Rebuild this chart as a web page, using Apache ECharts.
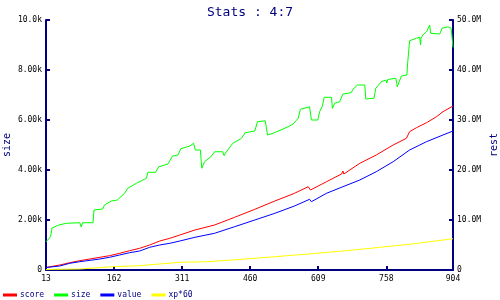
<!DOCTYPE html>
<html>
<head>
<meta charset="utf-8">
<script src="https://cdn.jsdelivr.net/npm/echarts@6/dist/echarts.min.js"></script>
<style>
  html, body { margin: 0; padding: 0; background: #fff; }
  #chart { width: 500px; height: 300px; }
</style>
</head>
<body>
<div id="chart"></div>
<script>
  // x range / ticks
  const xMin = 13
  const xMax = 904
  const xStep = 149

  // size (left axis), [x, value]
  const sizeData = [
    [13, 1130], [23, 1330], [26, 1680], [41, 1800], [58, 1870], [87, 1890], [90, 1720], [93, 1890],
    [116, 1890], [118, 2400], [137, 2440], [141, 2600], [156, 2760], [169, 2800], [185, 3070],
    [192, 3270], [211, 3470], [233, 3670], [236, 3910], [253, 3910], [260, 4130], [280, 4240],
    [290, 4560], [302, 4600], [308, 4850], [328, 4960], [336, 5070], [340, 4800], [351, 4800],
    [354, 4070], [360, 4330], [374, 4530], [382, 4730], [400, 4730], [403, 4570], [406, 4680],
    [422, 5070], [441, 5270], [449, 5490], [470, 5560], [476, 5930], [493, 5970], [498, 5400],
    [510, 5470], [522, 5560], [543, 5730], [554, 5840], [565, 6070], [570, 6430], [590, 6530],
    [594, 6000], [608, 6000], [612, 6330], [618, 6560], [622, 6910], [638, 6910], [640, 6470],
    [645, 6670], [656, 6730], [663, 7040], [681, 7090], [685, 7230], [695, 7400], [711, 7400],
    [713, 6840], [731, 6870], [735, 7270], [747, 7530], [757, 7600], [759, 7480], [761, 7620],
    [779, 7670], [782, 7330], [791, 7760], [803, 7800], [805, 8330], [809, 9170], [824, 9270],
    [831, 9310], [833, 9000], [834, 9280], [838, 9400], [846, 9530], [853, 9800], [855, 9470],
    [875, 9440], [880, 9670], [893, 9730], [900, 9670], [903, 9600], [904, 8900]
  ]

  // score, value, xp*60 (right axis)
  const scoreData = [
    [13, 0.5e6], [43, 1.0e6], [65, 1.46e6], [87, 1.86e6], [131, 2.54e6], [152, 2.86e6],
    [174, 3.34e6], [196, 3.86e6], [218, 4.34e6], [240, 5.0e6], [262, 5.8e6], [284, 6.34e6],
    [306, 7.0e6], [339, 8.0e6], [382, 9.0e6], [426, 10.54e6], [470, 12.14e6], [514, 13.8e6],
    [557, 15.34e6], [587, 16.66e6], [592, 16.0e6], [627, 17.66e6], [660, 19.2e6], [663, 19.8e6],
    [665, 19.2e6], [700, 21.34e6], [736, 23.0e6], [773, 25.0e6], [802, 26.34e6], [809, 27.66e6],
    [824, 28.46e6], [846, 29.46e6], [868, 30.66e6], [882, 31.66e6], [904, 32.8e6]
  ]
  const valueData = [
    [13, 0.5e6], [43, 0.8e6], [65, 1.34e6], [87, 1.66e6], [131, 2.2e6], [152, 2.54e6],
    [174, 3.0e6], [196, 3.46e6], [218, 3.8e6], [240, 4.54e6], [262, 5.0e6], [284, 5.34e6],
    [306, 5.8e6], [339, 6.54e6], [382, 7.34e6], [426, 8.66e6], [470, 10.0e6], [514, 11.34e6],
    [557, 12.8e6], [590, 14.14e6], [594, 13.66e6], [627, 15.34e6], [663, 16.66e6], [700, 18.0e6],
    [736, 19.66e6], [773, 21.66e6], [809, 24.0e6], [846, 25.66e6], [882, 27.0e6], [904, 27.8e6]
  ]
  const xpData = [
    [13, 0.1e6], [87, 0.2e6], [159, 0.66e6], [218, 0.86e6], [306, 1.54e6], [367, 1.66e6],
    [441, 2.14e6], [514, 2.66e6], [587, 3.2e6], [663, 3.8e6], [736, 4.46e6], [809, 5.14e6],
    [904, 6.25e6]
  ]

  const navy = '#000080'
  const mono = 'DejaVu Sans Mono'

  function fmt3(v, unit, div) {
    if (v === 0) return '0'
    const n = v / div
    return (n >= 10 ? n.toFixed(1) : n.toFixed(2)) + unit
  }

  function yAxisBase(name, max, interval, labelFn) {
    return {
      type: 'value',
      name: name,
      nameLocation: 'middle',
      nameRotate: 90,
      nameMoveOverlap: false,
      nameTextStyle: {color: navy, fontFamily: mono, fontSize: 10},
      min: 0,
      max: max,
      interval: interval,
      axisLine: {show: true, lineStyle: {color: navy, width: 2}},
      axisTick: {show: true, inside: true, length: 4, lineStyle: {color: navy, width: 2}},
      splitLine: {show: false},
      axisLabel: {color: '#000', fontFamily: mono, fontSize: 8, margin: 4, formatter: labelFn}
    }
  }

  const chart = echarts.init(document.getElementById('chart'))
  chart.setOption({
    animation: false,
    backgroundColor: '#fff',
    title: {
      text: 'Stats : 4:7',
      left: 'center',
      top: 1,
      textStyle: {color: navy, fontFamily: mono, fontSize: 13, fontWeight: 'normal'}
    },
    legend: {
      left: 3,
      top: 291,
      padding: 0,
      icon: 'rect',
      itemWidth: 14,
      itemHeight: 3,
      itemGap: 10,
      textStyle: {color: navy, fontFamily: mono, fontSize: 8, padding: [0, 0, 0, -2]},
      data: ['score', 'size', 'value', 'xp*60']
    },
    grid: {left: 46, right: 47, top: 20, bottom: 30, containLabel: false, outerBoundsMode: 'none'},
    xAxis: {
      type: 'value',
      min: xMin,
      max: xMax,
      interval: xStep,
      axisLine: {lineStyle: {color: navy, width: 2}},
      axisTick: {inside: true, length: 4, lineStyle: {color: navy, width: 2}},
      splitLine: {show: false},
      axisLabel: {color: '#000', fontFamily: mono, fontSize: 8, margin: 5, showMaxLabel: true}
    },
    yAxis: [
      Object.assign(yAxisBase('size', 10000, 2000, v => fmt3(v, 'k', 1000)), {nameGap: 34}),
      Object.assign(yAxisBase('rest', 50e6, 10e6, v => fmt3(v, 'M', 1e6)), {nameGap: 36, position: 'right'})
    ],
    series: [
      {name: 'score', type: 'line', yAxisIndex: 1, data: scoreData, symbol: 'none',
        itemStyle: {color: '#ff0000'}, lineStyle: {color: '#ff0000', width: 1}},
      {name: 'size', type: 'line', yAxisIndex: 0, data: sizeData, symbol: 'none',
        itemStyle: {color: '#00ff00'}, lineStyle: {color: '#00ff00', width: 1}},
      {name: 'value', type: 'line', yAxisIndex: 1, data: valueData, symbol: 'none',
        itemStyle: {color: '#0000ff'}, lineStyle: {color: '#0000ff', width: 1}},
      {name: 'xp*60', type: 'line', yAxisIndex: 1, data: xpData, symbol: 'none',
        itemStyle: {color: '#ffff00'}, lineStyle: {color: '#ffff00', width: 1}}
    ]
  })
</script>
</body>
</html>
